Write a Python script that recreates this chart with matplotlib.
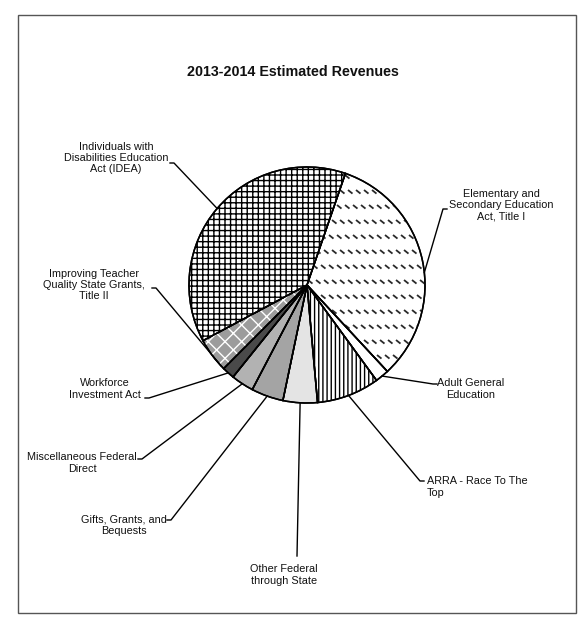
import numpy as np
import matplotlib
matplotlib.use("Agg")
import matplotlib.pyplot as plt
from matplotlib.patches import Wedge, Rectangle
from matplotlib.collections import LineCollection

plt.rcParams['font.family'] = ['Liberation Sans', 'DejaVu Sans']
plt.rcParams['hatch.linewidth'] = 1.0

# ---------------- data ----------------
title = "2013-2014 Estimated Revenues"
categories = [
    "Elementary and\nSecondary Education\nAct, Title I",
    "Adult General\nEducation",
    "ARRA - Race To The\nTop",
    "Other Federal\nthrough State",
    "Gifts, Grants, and\nBequests",
    "Miscellaneous Federal\nDirect",
    "Workforce\nInvestment Act",
    "Improving Teacher\nQuality State Grants,\nTitle II",
    "Individuals with\nDisabilities Education\nAct (IDEA)",
]
shares = [32.8, 1.9, 8.6, 4.7, 4.4, 3.1, 1.7, 4.7, 38.1]  # percent of revenues

# ---------------- styles ----------------
faces = ['white', 'white', 'white', '#e4e4e4', '#a4a4a4', '#b2b2b2',
         '#4a4a4a', '#9c9c9c', 'white']
hatches = [None, None, '||||', None, None, None, None, 'xx', '+++']
hatch_cols = [None, None, 'black', None, None, None, None, 'white', 'black']

W, H = 586, 624
fig = plt.figure(figsize=(W / 100, H / 100), dpi=100)
ax = fig.add_axes([0, 0, 1, 1])

center = (307, H - 285)
R = 118
wedges, _ = ax.pie(shares, startangle=71, counterclock=False, center=center,
                   radius=R, colors=faces,
                   wedgeprops=dict(edgecolor='black', linewidth=1.1))
ax.set_xlim(0, W)
ax.set_ylim(0, H)
ax.set_aspect('equal')
ax.axis('off')

# hatch overlays
for w, h, hc in zip(wedges, hatches, hatch_cols):
    if h:
        ov = Wedge(w.center, w.r, w.theta1, w.theta2, facecolor='none',
                   edgecolor=hc, linewidth=0, hatch=h, zorder=2)
        ax.add_patch(ov)

# dashed diagonal texture for the Elementary slice
w0 = wedges[0]
segs = []
for j, yy in enumerate(np.arange(center[1] - 130, center[1] + 131, 15)):
    off = 3 if j % 2 else 0
    for xx in np.arange(center[0] - 130 + off, center[0] + 131, 8):
        segs.append([(xx, yy), (xx + 4.5, yy - 3.6)])
lc = LineCollection(segs, colors='#2a2a2a', linewidths=1.3, zorder=2)
lc.set_clip_path(w0)
ax.add_collection(lc)

# outlines on top
for w in wedges:
    ax.add_patch(Wedge(w.center, w.r, w.theta1, w.theta2, fill=False,
                       edgecolor='black', linewidth=1.1, zorder=3))

# ---------------- labels & leaders ----------------
# text block centre (image px), alignment, leader start (image px), tick dx
label_pos = [(501, 205, 'center'), (471, 389, 'center'), (427, 487, 'left'),
             (284, 575, 'center'), (124, 525, 'center'), (82, 463, 'center'),
             (105, 389, 'center'), (94, 285, 'center'), (116, 158, 'center')]
leader_start = [(447, 209, -4), (437, 384, -4), (424, 481, -4),
                (297, 556, 0), (167, 520, 4), (138, 459, 4),
                (145, 398, 4), (152, 288, 4), (170, 163, 4)]
anchor_frac = [0.45, 0.5, 0.5, 0.5, 0.5, 0.5, 0.5, 0.9, 0.5]

for w, lab, (tx, ty, ha), (sx, sy, dx), fr in zip(wedges, categories, label_pos,
                                                  leader_start, anchor_frac):
    ax.text(tx, H - ty, lab, ha=ha, va='center', fontsize=7.8,
            multialignment=ha, linespacing=1.15, color='#111')
    ang = np.deg2rad(w.theta1 + fr * (w.theta2 - w.theta1))
    rx = center[0] + R * np.cos(ang)
    ry = center[1] + R * np.sin(ang)
    xs = [sx, sx + dx, rx]
    ys = [H - sy, H - sy, ry]
    ax.plot(xs, ys, color='black', linewidth=1.0, zorder=4)

ax.text(293, H - 72, title, ha='center', va='center', fontsize=10.3,
        fontweight='bold', color='#111')

# page frame
fig.patches.append(Rectangle((18 / W, (H - 613) / H), (576 - 18) / W,
                             (613 - 15) / H, transform=fig.transFigure,
                             fill=False, edgecolor='#555555', linewidth=1.0))

fig.savefig("out.png", dpi=100)
